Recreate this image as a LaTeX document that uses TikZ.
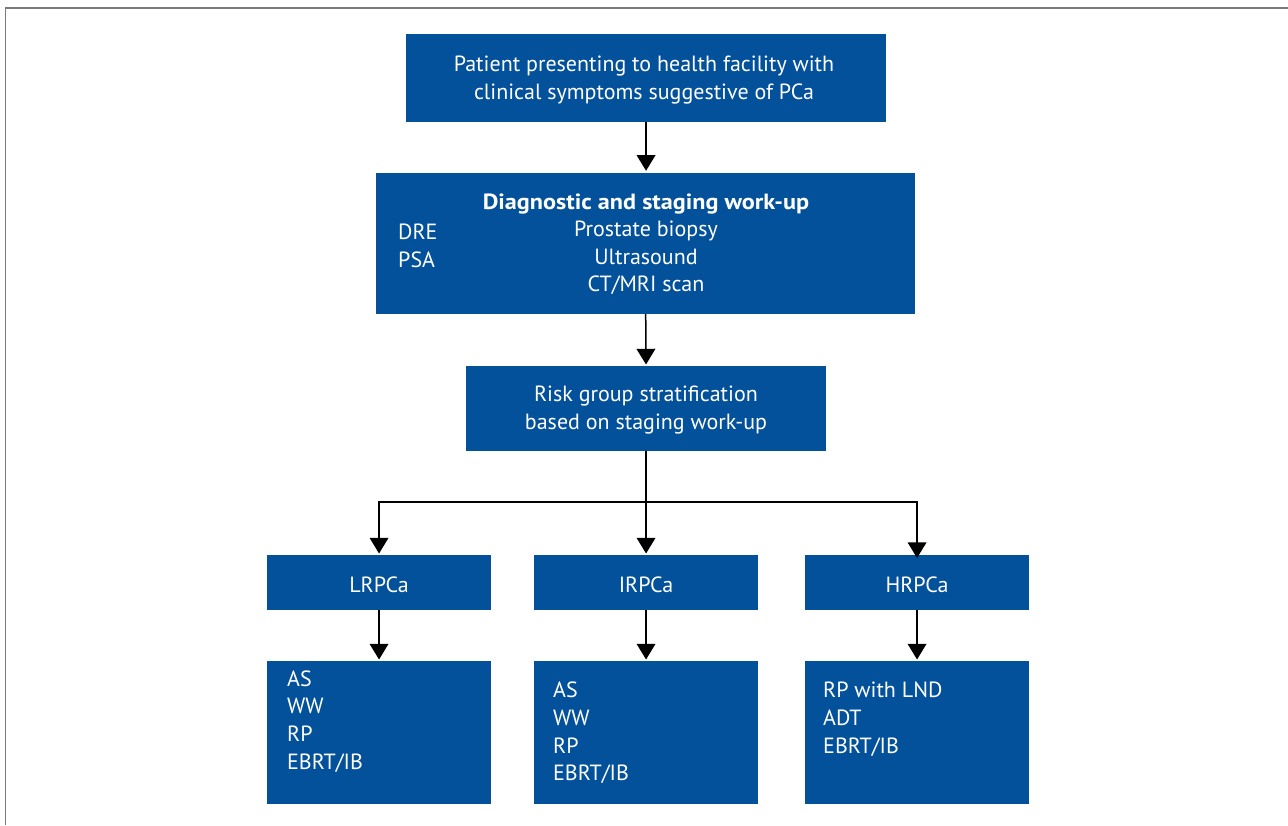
\documentclass[tikz,border=0pt]{standalone}
\usepackage{fontspec}
\setmainfont{PT Sans}[BoldFeatures={FakeStretch=1.1}]
\usetikzlibrary{arrows.meta,calc}
\definecolor{boxblue}{HTML}{03519B}
\definecolor{framegray}{HTML}{7A7A7A}
\begin{document}
\begin{tikzpicture}[x=1pt,y=-1pt,
  box/.style={fill=boxblue,draw=none,inner sep=0pt,anchor=north west},
  txt/.style={text=white,inner sep=0pt,font=\fontsize{22}{27.7}\selectfont},
  arr/.style={draw=black,line width=1.5pt,-{Triangle[width=18.7pt,length=15.7pt]},shorten >=1.5pt},
  conn/.style={draw=black,line width=1.5pt}]
\useasboundingbox (0,0) rectangle (1288,825);
\draw[framegray,line width=1.2pt] (5.5,825) -- (5.5,8) -- (1288,8);

% boxes
\node[box,minimum width=479.7pt,minimum height=87.7pt] (b1) at (406,34) {};
\node[box,minimum width=539pt,minimum height=141.4pt] (b2) at (376,172.3) {};
\node[box,minimum width=359.7pt,minimum height=84.4pt] (b3) at (466,366) {};
\node[box,minimum width=223.7pt,minimum height=54.7pt] (LR) at (267,555) {};
\node[box,minimum width=223.7pt,minimum height=54.7pt] (IR) at (534,555) {};
\node[box,minimum width=223.7pt,minimum height=54.7pt] (HR) at (805,555) {};
\node[box,minimum width=223.7pt,minimum height=142.7pt] (LRl) at (267,661) {};
\node[box,minimum width=223.7pt,minimum height=142.7pt] (IRl) at (534,661) {};
\node[box,minimum width=223.7pt,minimum height=142.7pt] (HRl) at (805,661) {};

% texts
\node[txt,anchor=base] (t1a) at (644,71.7) {Patient presenting to health facility with};
\node[txt,anchor=base] (t1b) at (644,99.3) {clinical symptoms suggestive of PCa};

\node[txt,anchor=base,font=\fontsize{22}{27.7}\selectfont\bfseries] (t2a) at (646,209) {Diagnostic and staging work-up};
\node[txt,anchor=base] (t2b) at (646,236.7) {Prostate biopsy};
\node[txt,anchor=base] (t2c) at (646,264.3) {Ultrasound};
\node[txt,anchor=base] (t2d) at (646,291.7) {CT/MRI scan};
\node[txt,anchor=base west] (t2e) at (398,239.3) {DRE};
\node[txt,anchor=base west] (t2f) at (398,267.3) {PSA};

\node[txt,anchor=base] (t3a) at (646,401.7) {Risk group stratification};
\node[txt,anchor=base] (t3b) at (646,429.3) {based on staging work-up};

\node[txt,anchor=base] at ($(LR.north)!0.5!(LR.south)+(0,10.3)$) {LRPCa};
\node[txt,anchor=base] at ($(IR.north)!0.5!(IR.south)+(0,10.3)$) {IRPCa};
\node[txt,anchor=base] at ($(HR.north)!0.5!(HR.south)+(0,10.3)$) {HRPCa};

\node[txt,anchor=base west] at (287,686.0) {AS};
\node[txt,anchor=base west] at (287,713.7) {WW};
\node[txt,anchor=base west] at (287,741.4) {RP};
\node[txt,anchor=base west] at (287,769.1) {EBRT/IB};

\node[txt,anchor=base west] at (553,697.7) {AS};
\node[txt,anchor=base west] at (553,725.4) {WW};
\node[txt,anchor=base west] at (553,753.1) {RP};
\node[txt,anchor=base west] at (553,780.8) {EBRT/IB};

\node[txt,anchor=base west] at (823,697.7) {RP with LND};
\node[txt,anchor=base west] at (823,725.4) {ADT};
\node[txt,anchor=base west] at (823,753.1) {EBRT/IB};

% connectors
\coordinate (split) at (646,502);
\draw[arr] (b1.south) -- (b1.south |- b2.north);
\draw[arr] (b2.south) -- (b3.north);
\draw[arr] (b3.south) -- (IR.north);
\draw[arr] (split) -| (LR.north);
\draw[arr,shorten >=-3pt] (split) -| (HR.north);
\draw[arr] (LR.south) -- (LRl.north);
\draw[arr] (IR.south) -- (IRl.north);
\draw[arr] (HR.south) -- (HRl.north);
\end{tikzpicture}
\end{document}
